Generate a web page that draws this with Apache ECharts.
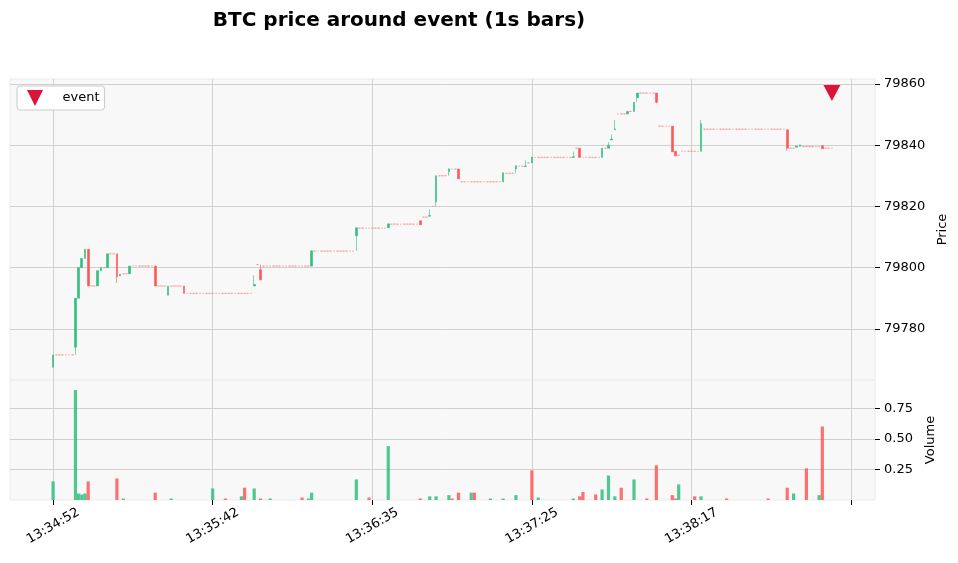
<!DOCTYPE html>
<html>
<head>
<meta charset="utf-8">
<script src="https://cdn.jsdelivr.net/npm/echarts@6/dist/echarts.min.js"></script>
<style>
  html, body { margin: 0; padding: 0; background: #fff; }
  #main { width: 958px; height: 563px; }
</style>
</head>
<body>
<div id="main"></div>
<script>
// bar index -> [open, close, low, high]
const candles = [
    [0, 79767.5, 79771.5, 79767.5, 79771.5],
    [7, 79774, 79790, 79771.5, 79790],
    [8, 79790, 79800, 79790, 79800],
    [9, 79800, 79803, 79800, 79803],
    [10, 79803, 79806, 79803, 79806],
    [11, 79806, 79794, 79794, 79806],
    [14, 79794, 79799, 79794, 79799],
    [15, 79799, 79800, 79799, 79800],
    [17, 79800, 79804.5, 79800, 79804.5],
    [20, 79804.5, 79797, 79795, 79804.5],
    [21, 79797.3, 79797.8, 79797.3, 79797.8],
    [24, 79798, 79800.5, 79798, 79800.5],
    [32, 79800.5, 79794, 79794, 79800.5],
    [36, 79791, 79794, 79791, 79794],
    [41, 79794, 79791.6, 79791.6, 79794],
    [63, 79794, 79794.5, 79794, 79797.5],
    [65, 79799.3, 79796, 79796, 79801],
    [81, 79800.5, 79805.5, 79800.5, 79805.5],
    [95, 79810.4, 79813, 79805.5, 79813],
    [105, 79813, 79814.3, 79813, 79814.3],
    [115, 79815.3, 79814, 79814, 79815.3],
    [118, 79816.8, 79817, 79816.8, 79819],
    [120, 79821.5, 79830, 79820, 79830],
    [124, 79831.3, 79832.3, 79830, 79832.3],
    [127, 79832.2, 79829, 79829, 79832.2],
    [141, 79828, 79831, 79828, 79831],
    [145, 79832.2, 79833.3, 79830.8, 79833.3],
    [148, 79833, 79833.2, 79833, 79835],
    [150, 79834.2, 79836.1, 79834.2, 79836.1],
    [163, 79836, 79836.2, 79836, 79837.9],
    [165, 79839, 79836, 79836, 79839],
    [172, 79836, 79839, 79836, 79839],
    [174, 79839, 79840, 79839, 79841],
    [175, 79841.7, 79842, 79841.7, 79843.5],
    [176, 79845, 79845.3, 79845, 79848.2],
    [180, 79850.2, 79851, 79850.2, 79851],
    [182, 79851, 79854, 79851, 79854],
    [183, 79855.5, 79857, 79854, 79857],
    [189, 79857, 79854, 79853.7, 79857],
    [194, 79846.2, 79837.8, 79837.8, 79846.2],
    [195, 79838, 79836.5, 79836.5, 79838],
    [203, 79838, 79847, 79838, 79848.2],
    [230, 79845, 79839, 79838.2, 79845],
    [233, 79839.3, 79839.7, 79839.3, 79839.7],
    [234, 79839.6, 79840.1, 79839.6, 79840.1],
    [241, 79839.8, 79838.8, 79838.8, 79839.8]
];

// runs of unchanged 1s bars: [first index, last index, price]
const flatRuns = [
    [1, 6, 79771.5], [12, 13, 79794], [16, 16, 79800], [18, 19, 79804.5],
    [22, 23, 79798], [25, 31, 79800.5], [33, 35, 79794], [37, 40, 79794],
    [42, 62, 79791.6], [64, 64, 79801], [66, 80, 79800.5], [82, 94, 79805.4],
    [96, 104, 79812.9], [106, 114, 79814.2], [116, 117, 79816.5], [119, 119, 79820],
    [121, 123, 79830], [125, 126, 79832.2], [128, 140, 79828], [142, 144, 79830.8],
    [146, 147, 79833.1], [149, 149, 79834.2], [151, 162, 79836], [164, 164, 79839],
    [166, 171, 79836], [173, 173, 79839], [177, 179, 79850.2], [181, 181, 79851],
    [184, 188, 79857], [190, 193, 79846.2], [196, 196, 79836.7], [197, 202, 79838],
    [204, 229, 79845.2], [231, 232, 79839], [235, 240, 79839.5], [242, 244, 79839]
];

// [index, volume, direction]
const volumes = [
    [0, 0.152, 'u'], [7, 0.898, 'u'], [8, 0.053, 'u'], [9, 0.045, 'u'], [10, 0.053, 'u'],
    [11, 0.152, 'd'], [20, 0.176, 'd'], [22, 0.012, 'u'], [32, 0.06, 'd'], [37, 0.012, 'u'],
    [50, 0.094, 'u'], [54, 0.012, 'd'], [59, 0.03, 'u'], [60, 0.1, 'd'], [63, 0.094, 'u'],
    [65, 0.012, 'd'], [68, 0.012, 'u'], [78, 0.02, 'd'], [80, 0.012, 'u'], [81, 0.06, 'u'],
    [95, 0.168, 'u'], [99, 0.02, 'd'], [105, 0.44, 'u'], [115, 0.012, 'd'], [118, 0.03, 'u'],
    [120, 0.03, 'u'], [124, 0.04, 'u'], [125, 0.012, 'd'], [127, 0.06, 'd'], [131, 0.06, 'u'],
    [132, 0.06, 'd'], [137, 0.012, 'u'], [141, 0.012, 'u'], [145, 0.04, 'u'], [150, 0.242, 'd'],
    [152, 0.02, 'u'], [163, 0.012, 'u'], [165, 0.03, 'd'], [166, 0.065, 'd'], [170, 0.045, 'd'],
    [172, 0.086, 'u'], [174, 0.2, 'u'], [176, 0.03, 'u'], [178, 0.1, 'd'], [182, 0.168, 'u'],
    [186, 0.012, 'd'], [189, 0.283, 'd'], [194, 0.04, 'd'], [195, 0.012, 'd'], [196, 0.127, 'u'],
    [201, 0.03, 'd'], [203, 0.03, 'u'], [211, 0.012, 'd'], [224, 0.012, 'd'], [230, 0.1, 'd'],
    [232, 0.053, 'u'], [236, 0.258, 'd'], [240, 0.04, 'u'], [241, 0.6, 'd']
];

const eventPoint = [244, 79857];
const tickIndex = [0, 50, 100, 150, 200, 250];
const tickLabels = ['13:34:52', '13:35:42', '13:36:35', '13:37:25', '13:38:17', ''];
const priceTicks = [79780, 79800, 79820, 79840, 79860];
const volumeTicks = [0.25, 0.5, 0.75];

const UP = '#2fbf7f';
const DOWN = '#ff5757';
const FIRST = -13, LAST = 257;

var cats = [];
var kData = [];
var vData = [];
var pos = {};
for (let i = FIRST; i <= LAST; i++) {
    pos[i] = cats.length;
    cats.push(i);
    kData.push('-');
    vData.push('-');
}
flatRuns.forEach(r => {
    for (let i = r[0]; i <= r[1]; i++) {
        kData[pos[i]] = {
            value: [r[2], r[2], r[2], r[2]],
            itemStyle: {borderColor: 'rgba(255,120,120,0.55)', borderColor0: 'rgba(255,120,120,0.55)', borderWidth: 1}
        };
    }
});
candles.forEach(c => {
    kData[pos[c[0]]] = [c[1], c[2], c[3], c[4]];
});
volumes.forEach(v => {
    vData[pos[v[0]]] = {value: v[1], itemStyle: {color: v[2] === 'u' ? UP : DOWN, opacity: 0.85}};
});

var chart = echarts.init(document.getElementById('main'));
var font = 'DejaVu Sans';
var tri = 'path://M0,0L10,0L5,10Z';

function catAxis(g) {
    return {
        type: 'category', gridIndex: g, position: 'top', data: cats, boundaryGap: true,
        axisLine: {show: false}, axisTick: {show: false}, axisLabel: {show: false}, splitLine: {show: false}
    };
}
function valAxis(g, labels) {
    return {
        type: 'value', gridIndex: g, position: 'bottom', min: FIRST - 0.5, max: LAST + 0.5,
        axisLine: {show: false, onZero: false},
        axisTick: {show: labels, customValues: tickIndex, length: 5, lineStyle: {color: '#000'}},
        axisLabel: {
            show: labels, customValues: tickIndex, rotate: 30, align: 'center', verticalAlign: 'middle',
            margin: 26, fontFamily: font, fontSize: 13, color: '#000',
            formatter: v => tickLabels[tickIndex.indexOf(Number(v))]
        },
        splitLine: {show: true, lineStyle: {color: '#d0d0d0', width: 1}}
    };
}

var option = {
    animation: false,
    title: {
        text: 'BTC price around event (1s bars)',
        left: 394, top: 6, textAlign: 'center',
        textStyle: {fontFamily: font, fontSize: 20, fontWeight: 'bold', color: '#000'}
    },
    legend: {
        data: [{name: 'event', icon: tri}],
        left: 17, top: 86,
        itemWidth: 17, itemHeight: 16, itemGap: 10,
        backgroundColor: '#fff', borderColor: '#ccc', borderWidth: 1, borderRadius: 3,
        padding: [4, 5, 4, 10],
        textStyle: {fontFamily: font, fontSize: 13, color: '#000', padding: [0, 0, 0, 14]}
    },
    grid: [
        {left: 10, right: 83, top: 79, height: 301, show: true, backgroundColor: '#f8f8f8', borderColor: '#eaeaea'},
        {left: 10, right: 83, top: 380, height: 120, show: true, backgroundColor: '#f8f8f8', borderColor: '#eaeaea'}
    ],
    xAxis: [catAxis(0), catAxis(1), valAxis(0, false), valAxis(1, true)],
    yAxis: [
        {
            gridIndex: 0, position: 'right', scale: true,
            min: 79763.3, max: 79861.6,
            name: 'Price', nameLocation: 'middle', nameRotate: 90, nameGap: 58,
            nameTextStyle: {fontFamily: font, fontSize: 13, color: '#000'},
            axisLine: {show: false, onZero: false},
            axisTick: {show: true, customValues: priceTicks, length: 5, lineStyle: {color: '#000'}},
            axisLabel: {customValues: priceTicks, fontFamily: font, fontSize: 13, color: '#000', margin: 9,
                formatter: v => String(v)},
            splitLine: {show: true, lineStyle: {color: '#d0d0d0'}}
        },
        {
            gridIndex: 1, position: 'right',
            min: 0, max: 0.98,
            name: 'Volume', nameLocation: 'middle', nameRotate: 90, nameGap: 45,
            nameTextStyle: {fontFamily: font, fontSize: 13, color: '#000'},
            axisLine: {show: false, onZero: false},
            axisTick: {show: true, customValues: volumeTicks, length: 5, lineStyle: {color: '#000'}},
            axisLabel: {customValues: volumeTicks, fontFamily: font, fontSize: 13, color: '#000', margin: 9,
                formatter: v => Number(v).toFixed(2)},
            splitLine: {show: true, lineStyle: {color: '#d0d0d0'}}
        }
    ],
    series: [
        {
            type: 'candlestick', xAxisIndex: 0, yAxisIndex: 0,
            data: kData, barWidth: 2.2,
            itemStyle: {color: UP, color0: DOWN, borderColor: UP, borderColor0: DOWN, borderWidth: 0.6}
        },
        {
            type: 'bar', xAxisIndex: 1, yAxisIndex: 1,
            data: vData, barWidth: 3.2
        },
        {
            name: 'event', type: 'scatter', xAxisIndex: 0, yAxisIndex: 0,
            data: [[eventPoint[0] - FIRST, eventPoint[1]]],
            symbol: tri, symbolSize: [17, 16],
            itemStyle: {color: '#dc143c', opacity: 1}, z: 5
        }
    ]
};
chart.setOption(option);
</script>
</body>
</html>
